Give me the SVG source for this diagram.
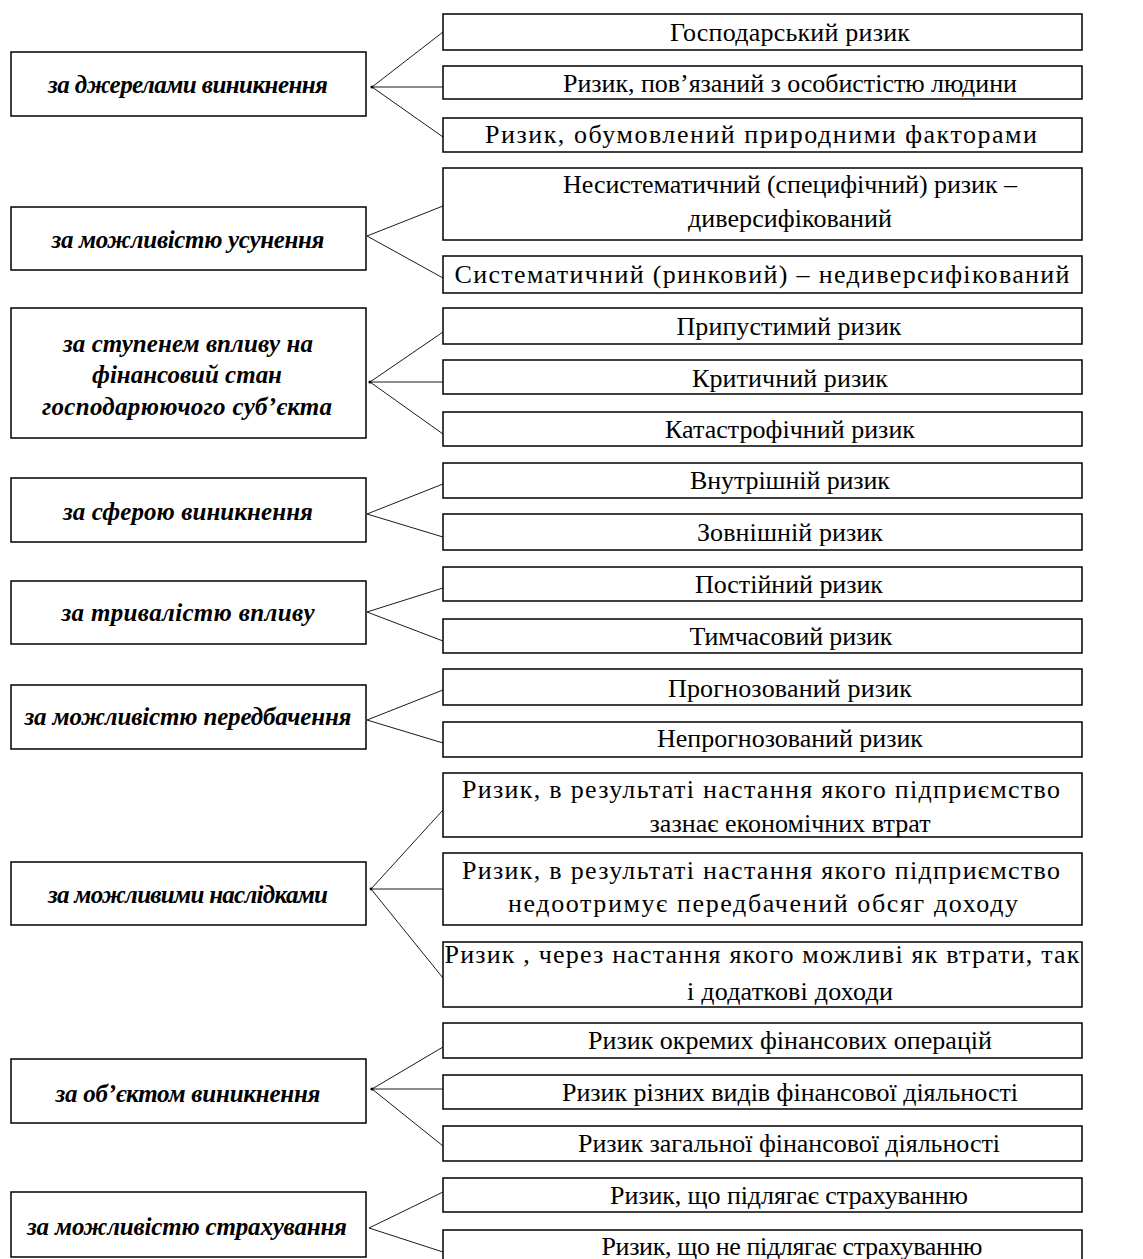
<svg xmlns="http://www.w3.org/2000/svg" width="1143" height="1259" viewBox="0 0 1143 1259">
<style>
.box{fill:#fff;stroke:#000;stroke-width:1.5}
.lt{font-family:"Liberation Serif","DejaVu Serif",serif;font-weight:bold;font-style:italic;font-size:25px;fill:#000;text-anchor:middle}
.rt{font-family:"Liberation Serif","DejaVu Serif",serif;font-size:26px;fill:#000;text-anchor:middle}
.con line{stroke:#000;stroke-width:0.9}
.con circle{fill:#000}
</style>
<rect width="1143" height="1259" fill="#fff"/>
<g id="connectors" class="con">
<line x1="372" y1="87" x2="443" y2="32"/><line x1="372" y1="87" x2="443" y2="87"/><line x1="372" y1="87" x2="443" y2="137"/><circle cx="372" cy="87" r="1.6"/>
<line x1="367" y1="236" x2="443" y2="206"/><line x1="367" y1="236" x2="443" y2="278"/>
<line x1="370" y1="382" x2="443" y2="332"/><line x1="370" y1="382" x2="443" y2="382"/><line x1="370" y1="382" x2="443" y2="434"/><circle cx="370" cy="382" r="1.6"/>
<line x1="367" y1="514" x2="443" y2="484"/><line x1="367" y1="514" x2="443" y2="537"/>
<line x1="367" y1="612" x2="443" y2="588"/><line x1="367" y1="612" x2="443" y2="641"/>
<line x1="367" y1="720" x2="443" y2="690"/><line x1="367" y1="720" x2="443" y2="743"/>
<line x1="371" y1="889" x2="443" y2="810"/><line x1="371" y1="889" x2="443" y2="889"/><line x1="371" y1="889" x2="443" y2="978"/><circle cx="371" cy="889" r="1.4"/>
<line x1="372" y1="1089" x2="443" y2="1047"/><line x1="372" y1="1089" x2="443" y2="1089"/><line x1="372" y1="1089" x2="443" y2="1146"/><circle cx="372" cy="1089" r="1.6"/>
<line x1="369" y1="1228" x2="443" y2="1192"/><line x1="369" y1="1228" x2="443" y2="1252"/>
</g>
<g id="L1"><rect class="box" x="11" y="52" width="355" height="64"/><text class="lt" x="188" y="93" textLength="280">за джерелами виникнення</text></g>
<g id="L2"><rect class="box" x="11" y="207" width="355" height="63"/><text class="lt" x="188" y="248" textLength="273">за можливістю усунення</text></g>
<g id="L3"><rect class="box" x="11" y="308" width="355" height="130"/><text class="lt" x="188" y="352" textLength="250">за ступенем впливу на</text><text class="lt" x="187" y="383" textLength="190">фінансовий стан</text><text class="lt" x="187" y="415" textLength="290">господарюючого суб’єкта</text></g>
<g id="L4"><rect class="box" x="11" y="478" width="355" height="64"/><text class="lt" x="188" y="520" textLength="250">за сферою виникнення</text></g>
<g id="L5"><rect class="box" x="11" y="581" width="355" height="63"/><text class="lt" x="188" y="621" textLength="253">за тривалістю впливу</text></g>
<g id="L6"><rect class="box" x="11" y="685" width="355" height="64"/><text class="lt" x="188" y="725" textLength="327">за можливістю передбачення</text></g>
<g id="L7"><rect class="box" x="11" y="862" width="355" height="63"/><text class="lt" x="188" y="903" textLength="280">за можливими наслідками</text></g>
<g id="L8"><rect class="box" x="11" y="1059" width="355" height="64"/><text class="lt" x="188" y="1102" textLength="265">за об’єктом виникнення</text></g>
<g id="L9"><rect class="box" x="11" y="1192" width="355" height="65"/><text class="lt" x="187" y="1235" textLength="320">за можливістю страхування</text></g>
<g id="R1"><rect class="box" x="443" y="14" width="639" height="36"/><text class="rt" x="790" y="41" textLength="240">Господарський ризик</text></g>
<g id="R2"><rect class="box" x="443" y="66" width="639" height="33"/><text class="rt" x="790" y="92" textLength="454">Ризик, пов’язаний з особистістю людини</text></g>
<g id="R3"><rect class="box" x="443" y="118" width="639" height="34"/><text class="rt" x="761" y="143" textLength="552">Ризик, обумовлений природними факторами</text></g>
<g id="R4"><rect class="box" x="443" y="168" width="639" height="72"/><text class="rt" x="790" y="193" textLength="454">Несистематичний (специфічний) ризик –</text><text class="rt" x="790" y="227" textLength="204">диверсифікований</text></g>
<g id="R5"><rect class="box" x="443" y="256" width="639" height="37"/><text class="rt" x="762" y="283" textLength="615">Систематичний (ринковий) – недиверсифікований</text></g>
<g id="R6"><rect class="box" x="443" y="308" width="639" height="36"/><text class="rt" x="789" y="335" textLength="225">Припустимий ризик</text></g>
<g id="R7"><rect class="box" x="443" y="360" width="639" height="34"/><text class="rt" x="790" y="387" textLength="196">Критичний ризик</text></g>
<g id="R8"><rect class="box" x="443" y="412" width="639" height="34"/><text class="rt" x="790" y="438" textLength="250">Катастрофічний ризик</text></g>
<g id="R9"><rect class="box" x="443" y="463" width="639" height="35"/><text class="rt" x="790" y="489" textLength="200">Внутрішній ризик</text></g>
<g id="R10"><rect class="box" x="443" y="514" width="639" height="36"/><text class="rt" x="790" y="541" textLength="186">Зовнішній ризик</text></g>
<g id="R11"><rect class="box" x="443" y="567" width="639" height="34"/><text class="rt" x="789" y="593" textLength="188">Постійний ризик</text></g>
<g id="R12"><rect class="box" x="443" y="619" width="639" height="34"/><text class="rt" x="791" y="645" textLength="203">Тимчасовий ризик</text></g>
<g id="R13"><rect class="box" x="443" y="669" width="639" height="36"/><text class="rt" x="790" y="697" textLength="244">Прогнозований ризик</text></g>
<g id="R14"><rect class="box" x="443" y="722" width="639" height="35"/><text class="rt" x="790" y="747" textLength="266">Непрогнозований ризик</text></g>
<g id="R15"><rect class="box" x="443" y="773" width="639" height="64"/><text class="rt" x="761" y="798" textLength="598">Ризик, в результаті настання якого підприємство</text><text class="rt" x="790" y="832" textLength="281">зазнає економічних втрат</text></g>
<g id="R16"><rect class="box" x="443" y="853" width="639" height="72"/><text class="rt" x="761" y="879" textLength="598">Ризик, в результаті настання якого підприємство</text><text class="rt" x="763" y="912" textLength="510">недоотримує передбачений обсяг доходу</text></g>
<g id="R17"><rect class="box" x="443" y="942" width="639" height="65"/><text class="rt" x="762" y="963" textLength="635">Ризик , через настання якого можливі як втрати, так</text><text class="rt" x="790" y="1000" textLength="206">і додаткові доходи</text></g>
<g id="R18"><rect class="box" x="443" y="1023" width="639" height="35"/><text class="rt" x="790" y="1049" textLength="404">Ризик окремих фінансових операцій</text></g>
<g id="R19"><rect class="box" x="443" y="1075" width="639" height="34"/><text class="rt" x="790" y="1101" textLength="456">Ризик різних видів фінансової діяльності</text></g>
<g id="R20"><rect class="box" x="443" y="1126" width="639" height="35"/><text class="rt" x="789" y="1152" textLength="422">Ризик загальної фінансової діяльності</text></g>
<g id="R21"><rect class="box" x="443" y="1178" width="639" height="34"/><text class="rt" x="789" y="1204" textLength="358">Ризик, що підлягає страхуванню</text></g>
<g id="R22"><rect class="box" x="443" y="1230" width="639" height="34"/><text class="rt" x="792" y="1255" textLength="381">Ризик, що не підлягає страхуванню</text></g>
</svg>
